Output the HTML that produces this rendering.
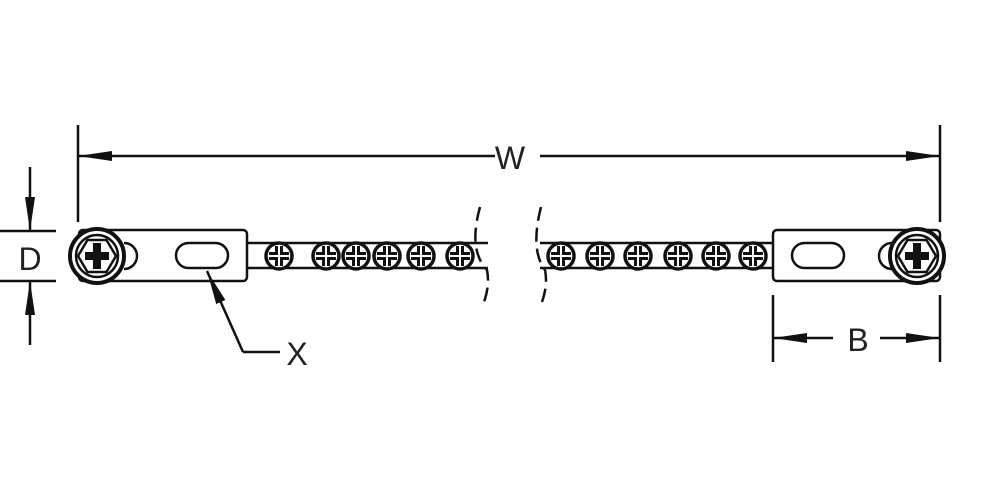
<!DOCTYPE html>
<html><head><style>body{margin:0;background:#fff}svg{display:block}text{font-family:"Liberation Sans",sans-serif;fill:#222}</style></head>
<body>
<svg width="1000" height="500" viewBox="0 0 1000 500" xmlns="http://www.w3.org/2000/svg">
<defs>
<marker id="a" markerWidth="34" markerHeight="12" refX="34" refY="6" orient="auto" markerUnits="userSpaceOnUse"><path d="M0,1 L34,6 L0,11 z" fill="#111"/></marker>
<g id="s"><circle r="13" fill="#fff" stroke="#111" stroke-width="3.5"/><path d="M-10,0H10M0,-10V10" stroke="#111" stroke-width="8"/><path d="M-10,0H10M0,-10V10" stroke="#fff" stroke-width="2"/></g>
<g id="big"><circle r="27" fill="#fff" stroke="#111" stroke-width="4"/><circle r="21" fill="none" stroke="#111" stroke-width="2.5"/><path d="M-19,0L-9.5,-16H9.5L19,0L9.5,16H-9.5Z" fill="none" stroke="#111" stroke-width="2.5"/><path d="M-12,-4H12V4H-12ZM-4,-13H4V13H-4Z" fill="#111"/></g>
</defs>
<g stroke="#111" stroke-width="2.5" fill="none">
<line x1="78" y1="125" x2="78" y2="222"/><line x1="940" y1="125" x2="940" y2="222"/>
<line x1="495" y1="156" x2="78" y2="156" marker-end="url(#a)"/><line x1="540" y1="156" x2="940" y2="156" marker-end="url(#a)"/>
<line x1="0" y1="231" x2="56" y2="231"/><line x1="0" y1="281" x2="56" y2="281"/>
<line x1="30" y1="167" x2="30" y2="231" marker-end="url(#a)"/><line x1="30" y1="345" x2="30" y2="281" marker-end="url(#a)"/>
<line x1="773" y1="295" x2="773" y2="362"/><line x1="940" y1="295" x2="940" y2="362"/>
<line x1="833" y1="338" x2="773" y2="338" marker-end="url(#a)"/><line x1="880" y1="338" x2="940" y2="338" marker-end="url(#a)"/>
<path d="M247,243H488M247,268H488M540,243H773M540,268H773"/>
<rect x="79" y="230" width="168" height="51" rx="4" fill="#fff"/>
<rect x="773" y="230" width="167" height="51" rx="4" fill="#fff"/>
<path d="M124,243a13,13 0 0 1 0,26" /><path d="M892,243a13,13 0 0 0 0,26"/>
<rect x="176" y="243" width="52" height="25" rx="12.5"/>
<rect x="792" y="243" width="52" height="25" rx="12.5"/>
<polyline points="243,352 280,352"/><line x1="243" y1="352" x2="207" y2="271" marker-end="url(#a)"/>
<path d="M480,207 Q468,250 487,270 Q490,285 484,302" stroke-dasharray="14,7"/>
<path d="M541,207 Q530,250 545,270 Q548,285 542,302" stroke-dasharray="14,7"/>
</g>
<use href="#big" x="97" y="256"/><use href="#big" x="917" y="256"/>
<use href="#s" x="279" y="256"/><use href="#s" x="326" y="256"/><use href="#s" x="356" y="256"/><use href="#s" x="387" y="256"/><use href="#s" x="421" y="256"/><use href="#s" x="460" y="256"/>
<use href="#s" x="561" y="256"/><use href="#s" x="600" y="256"/><use href="#s" x="638" y="256"/><use href="#s" x="678" y="256"/><use href="#s" x="716" y="256"/><use href="#s" x="753" y="256"/>
<text x="510" y="169" font-size="32" text-anchor="middle">W</text>
<text x="30" y="270" font-size="32" text-anchor="middle">D</text>
<text x="858" y="351" font-size="32" text-anchor="middle">B</text>
<text x="297" y="365" font-size="32" text-anchor="middle">X</text>
</svg>
</body></html>
